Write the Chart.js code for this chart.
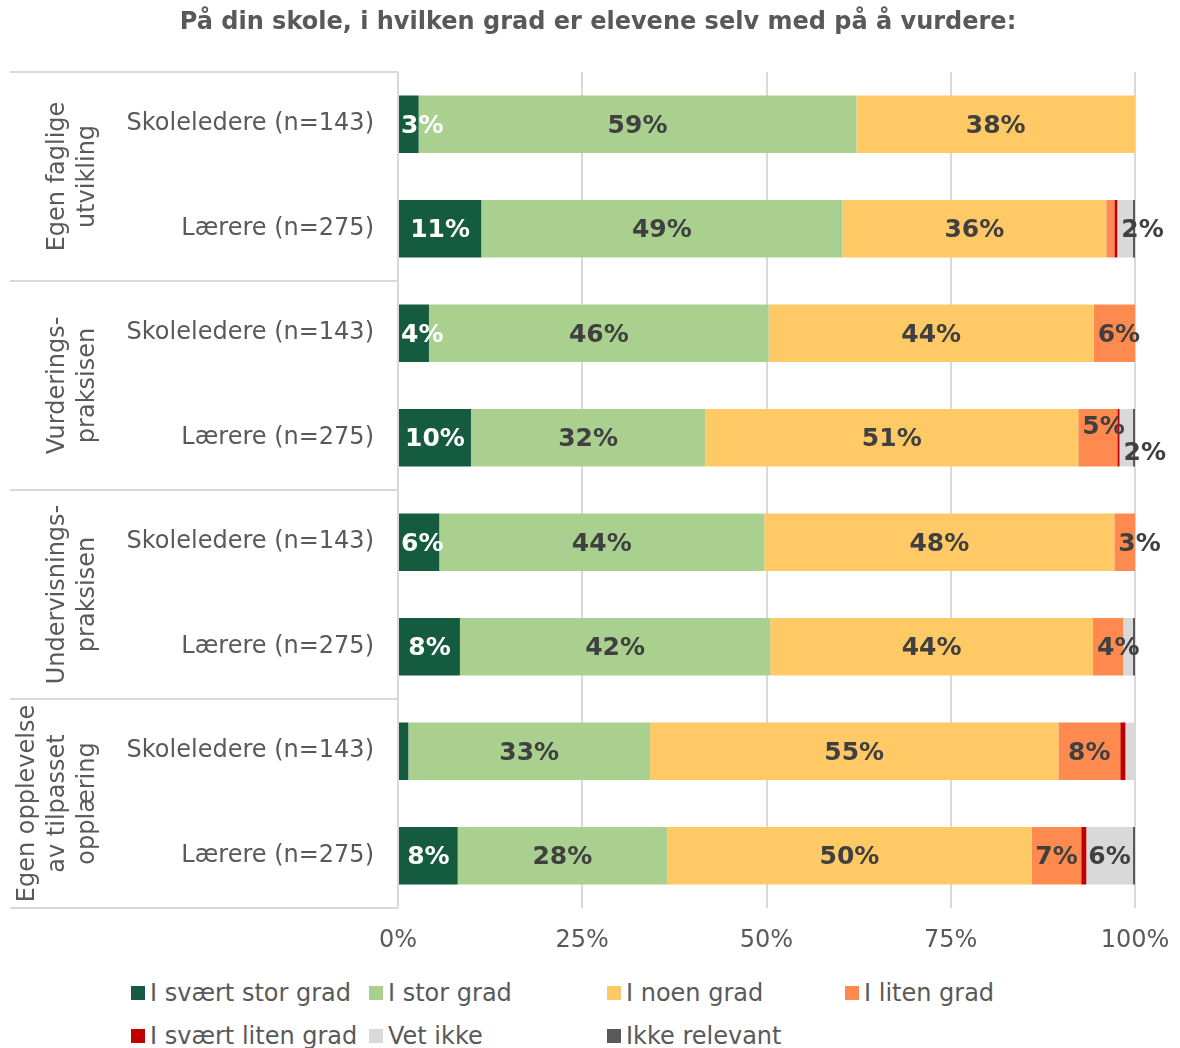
<!DOCTYPE html>
<html>
<head>
<meta charset="utf-8">
<script src="https://cdn.jsdelivr.net/npm/chart.js@4.4.1/dist/chart.umd.min.js"></script>
<style>
  body { margin: 0; background: #fff; font-family: "DejaVu Sans", Verdana, sans-serif; }
  #wrap { position: relative; width: 1180px; height: 960px; }
  #legend { display: grid; grid-template-columns: repeat(4, 238px); padding-left: 131px; padding-top: 11px; width: 1049px; }
  .item { display: flex; align-items: center; height: 43px; font-size: 24px; color: #595959; white-space: nowrap; }
  .box { width: 14px; height: 14px; margin-right: 5px; flex: none; }
</style>
</head>
<body>
<div id="wrap"><canvas id="myChart"></canvas></div>
<div id="legend"></div>
<script>
const chartTitle = "På din skole, i hvilken grad er elevene selv med på å vurdere:";
const rowLabels = ["Skoleledere (n=143)", "Lærere (n=275)", "Skoleledere (n=143)", "Lærere (n=275)",
                   "Skoleledere (n=143)", "Lærere (n=275)", "Skoleledere (n=143)", "Lærere (n=275)"];
const groupLabels = [["Egen faglige", "utvikling"], ["Vurderings-", "praksisen"],
                     ["Undervisnings-", "praksisen"], ["Egen opplevelse", "av tilpasset", "opplæring"]];
const seriesNames = ["I svært stor grad", "I stor grad", "I noen grad", "I liten grad",
                     "I svært liten grad", "Vet ikke", "Ikke relevant"];
const seriesColors = ["#155B3F", "#A9D08E", "#FFC966", "#FF8A4F", "#C00000", "#D9D9D9", "#595959"];

const sværtStor = [2.8, 11.3, 4.2, 9.9, 5.6, 8.4, 1.4, 8.1];
const stor      = [59.4, 49.0, 46.1, 31.8, 44.1, 42.1, 32.8, 28.4];
const noen      = [37.8, 35.8, 44.1, 50.6, 47.5, 43.8, 55.4, 49.5];
const liten     = [0, 1.1, 5.6, 5.3, 2.8, 4.1, 8.4, 6.7];
const sværtLiten = [0, 0.4, 0, 0.3, 0, 0, 0.7, 0.7];
const vetIkke   = [0, 2.1, 0, 1.8, 0, 1.3, 1.3, 6.3];
const ikkeRel   = [0, 0.3, 0, 0.3, 0, 0.3, 0, 0.3];
const tickValues = [0, 25, 50, 75, 100];

const allSeries = [sværtStor, stor, noen, liten, sværtLiten, vetIkke, ikkeRel];

const textGrey = "#595959";

// title drawn by hand so it can sit a bit right of centre like the original
const titlePlugin = {
  id: "titlePlugin",
  afterDraw(chart) {
    const ctx = chart.ctx;
    ctx.save();
    ctx.font = "bold 24px 'DejaVu Sans'";
    ctx.fillStyle = textGrey;
    ctx.textAlign = "center";
    ctx.textBaseline = "middle";
    ctx.fillText(chartTitle, 598, 23);
    ctx.restore();
  }
};

// labels on the bars
const barLabels = {
  id: "barLabels",
  afterDatasetsDraw(chart) {
    const ctx = chart.ctx;
    ctx.save();
    ctx.font = "bold 25px 'DejaVu Sans'";
    ctx.textBaseline = "middle";
    ctx.textAlign = "left";
    for (let i = 0; i < rowLabels.length; i++) {
      const items = [];
      chart.data.datasets.forEach((ds, d) => {
        const v = ds.data[i];
        if (Math.round(v) < 2) return;
        const el = chart.getDatasetMeta(d).data[i];
        const left = Math.min(el.base, el.x), right = Math.max(el.base, el.x);
        const txt = Math.round(v) + "%";
        const w = ctx.measureText(txt).width;
        let x = (left + right) / 2 - w / 2;
        if (w > right - left) x = left + (d === 0 ? 2 : 4);
        items.push({ txt, x, w, y: el.y + 2, color: d === 0 ? "#fff" : "#404040" });
      });
      for (let k = 1; k < items.length; k++) {
        const a = items[k - 1], b = items[k];
        if (a.x + a.w > b.x - 2) { a.y -= 12; b.y += 14; }
      }
      items.forEach(it => { ctx.fillStyle = it.color; ctx.fillText(it.txt, it.x, it.y); });
    }
    ctx.restore();
  }
};

// group boxes and rotated group labels on the left
const groupBoxes = {
  id: "groupBoxes",
  afterDraw(chart) {
    const ctx = chart.ctx, y = chart.scales.y, area = chart.chartArea;
    ctx.save();
    ctx.strokeStyle = "#D9D9D9";
    ctx.lineWidth = 2;
    const per = rowLabels.length / groupLabels.length;
    const edges = [area.top];
    for (let g = 1; g < groupLabels.length; g++) {
      edges.push((y.getPixelForValue(g * per - 1) + y.getPixelForValue(g * per)) / 2);
    }
    edges.push(area.bottom);
    edges.forEach(e => {
      ctx.beginPath(); ctx.moveTo(10, e); ctx.lineTo(area.left, e); ctx.stroke();
    });
    ctx.fillStyle = textGrey;
    ctx.font = "24px 'DejaVu Sans'";
    ctx.textAlign = "center";
    ctx.textBaseline = "middle";
    groupLabels.forEach((lines, g) => {
      const cy = (edges[g] + edges[g + 1]) / 2;
      lines.forEach((line, k) => {
        const cx = 88 - (lines.length - 1 - k) * 30;
        ctx.save();
        ctx.translate(cx, cy);
        ctx.rotate(-Math.PI / 2);
        ctx.fillText(line, 0, 0);
        ctx.restore();
      });
    });
    ctx.restore();
  }
};

const htmlLegend = {
  id: "htmlLegend",
  afterUpdate(chart) {
    const box = document.getElementById("legend");
    box.innerHTML = "";
    chart.data.datasets.forEach(ds => {
      const item = document.createElement("div");
      item.className = "item";
      item.innerHTML = `<span class="box" style="background:${ds.backgroundColor}"></span>${ds.label}`;
      box.appendChild(item);
    });
  }
};

new Chart("myChart", {
  type: "bar",
  data: {
    labels: rowLabels,
    datasets: allSeries.map((data, i) => ({
      label: seriesNames[i],
      data: data,
      backgroundColor: seriesColors[i],
      borderWidth: 0,
      barPercentage: 0.55,
      categoryPercentage: 1
    }))
  },
  options: {
    indexAxis: "y",
    responsive: true,
    maintainAspectRatio: false,
    animation: false,
    layout: { padding: { left: 0, right: 45, top: 72, bottom: 0 } },
    plugins: {
      legend: { display: false },
      tooltip: { enabled: false },
      title: { display: false }
    },
    scales: {
      x: {
        stacked: true,
        min: 0,
        max: 100,
        afterBuildTicks: s => { s.ticks = tickValues.map(v => ({ value: v })); },
        ticks: {
          callback: v => v + "%",
          color: textGrey,
          font: { family: "DejaVu Sans", size: 24 },
          padding: 18,
          maxRotation: 0
        },
        grid: { color: "#D9D9D9", lineWidth: 2, drawTicks: false },
        border: { display: false },
        afterFit: s => { s.height = 52; s.paddingRight = 0; s.paddingLeft = 0; }
      },
      y: {
        stacked: true,
        ticks: {
          color: textGrey,
          font: { family: "DejaVu Sans", size: 24 },
          padding: 16
        },
        grid: { display: false },
        border: { display: false },
        afterFit: s => { s.width = 398; s.paddingTop = 0; s.paddingBottom = 0; }
      }
    }
  },
  plugins: [titlePlugin, barLabels, groupBoxes, htmlLegend]
});
</script>
</body>
</html>
